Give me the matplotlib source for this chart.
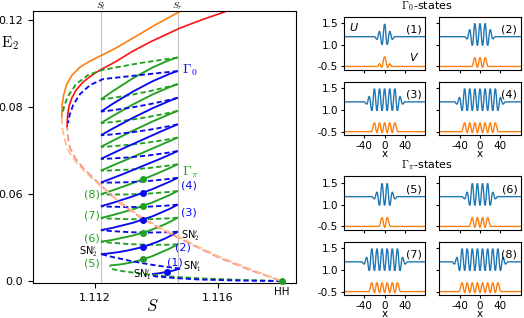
import matplotlib.pyplot as plt
from matplotlib.path import Path
from matplotlib.patches import PathPatch

plt.rcParams['mathtext.fontset'] = 'cm'
plt.rcParams['font.size'] = 7.5

# ---- main diagram, values (S, E2) ----
S_l, S_r = 1.11219, 1.11469
S_mid = 1.11356

# homogeneous branches
hss_orange_S = [1.110917, 1.110927, 1.110976, 1.111080, 1.111252, 1.111512, 1.111837,
                1.112163, 1.112650, 1.113236, 1.113951, 1.114787]
hss_orange_E = [0.07540, 0.08092, 0.08552, 0.09057, 0.09471, 0.09839, 0.10115,
                0.10345, 0.10690, 0.11172, 0.11770, 0.12414]
hss_red_S = [1.111089, 1.111106, 1.111154, 1.111242, 1.111382, 1.111610, 1.111902,
             1.112163, 1.112650, 1.113236, 1.113789, 1.114764, 1.115512, 1.116293]
hss_red_E = [0.07080, 0.07632, 0.08046, 0.08414, 0.08782, 0.09149, 0.09471,
             0.09701, 0.10069, 0.10575, 0.10989, 0.11632, 0.12032, 0.12414]
low_orange_S = [1.110917, 1.110927, 1.110992, 1.111122, 1.111350, 1.111675, 1.112163,
                1.112813, 1.113463, 1.114114, 1.114764, 1.115415, 1.116065, 1.117041, 1.118072]
low_orange_E = [0.07540, 0.07080, 0.06575, 0.06023, 0.05517, 0.05011, 0.04391,
                0.03632, 0.02989, 0.02460, 0.02000, 0.01540, 0.01103, 0.00552, 0.0]
low_red_S = [1.111089, 1.111115, 1.111187, 1.111350, 1.111642, 1.112163, 1.112813,
             1.113463, 1.114114, 1.114764, 1.115415, 1.116065, 1.117041, 1.118072]
low_red_E = [0.07080, 0.06621, 0.06115, 0.05655, 0.05149, 0.04437, 0.03586,
             0.02943, 0.02414, 0.01954, 0.01494, 0.01057, 0.00506, 0.0]

# snake of the Gamma_pi states (green): left fold, middle, right fold of each stable piece
g_left_S = [1.112488, S_l, S_l, S_l, S_l, S_l, S_l, S_l]
g_left = [0.00722, 0.01811, 0.02901, 0.03991, 0.05080, 0.06170, 0.07260, 0.08349]
g_mid = [0.00998, 0.02225, 0.03453, 0.04680, 0.05908, 0.07136, 0.08363, 0.09591]
g_right = [0.01687, 0.02915, 0.04143, 0.05370, 0.06598, 0.07825, 0.09053, 0.10280]
g_dash_mid = [0.01678, 0.02839, 0.03998, 0.05156, 0.06315, 0.07474, 0.08632]

# snake of the Gamma_0 states (blue)
b_left_S = [1.113854, S_l, S_l, S_l, S_l, S_l, S_l, S_l]
b_mid_S = [1.114332, S_mid, S_mid, S_mid, S_mid, S_mid, S_mid, S_mid]
b_right_S = [1.114764, S_r, S_r, S_r, S_r, S_r, S_r, S_r]
b_left = [0.00322, 0.01237, 0.02340, 0.03439, 0.04529, 0.05618, 0.06703, 0.07793]
b_mid = [0.00414, 0.01577, 0.02823, 0.04060, 0.05287, 0.06515, 0.07738, 0.08966]
b_right = [0.00575, 0.02267, 0.03513, 0.04749, 0.05977, 0.07205, 0.08428, 0.09655]
b_dash_mid = [0.00837, 0.02234, 0.03407, 0.04570, 0.05729, 0.06885, 0.08041]

# unstable ends of the snakes
g_tail_low_S = [1.118072, 1.116715, 1.115415, 1.114439, 1.113626, 1.112976, 1.112586,
                1.112500, 1.112488]
g_tail_low_E = [0.0, 0.00055, 0.00124, 0.00207, 0.00322, 0.00437, 0.00540, 0.00620, 0.00722]
b_tail_low_S = [1.118072, 1.116715, 1.115415, 1.114602, 1.114179, 1.113951, 1.113870, 1.113854]
b_tail_low_E = [0.0, 0.00023, 0.00069, 0.00138, 0.00190, 0.00215, 0.00260, 0.00322]
g_tail_top_S = [S_r, 1.113463, 1.112218, 1.111772, 1.111382, 1.111122, 1.110992, 1.110943]
g_tail_top_E = [0.10280, 0.10023, 0.09701, 0.09471, 0.09057, 0.08506, 0.08046, 0.07678]
b_tail_top_S = [S_r, 1.113463, 1.112260, 1.111837, 1.111512, 1.111285, 1.111171, 1.111122]
b_tail_top_E = [0.09655, 0.09471, 0.09287, 0.09011, 0.08598, 0.08092, 0.07632, 0.07264]

green = '#22a022'
blue = '#0a0aee'
dash = (0, (2.8, 1.6))

fig = plt.figure(figsize=(5.24, 3.18), dpi=100)
ax = fig.add_axes([0.063, 0.110, 0.502, 0.855])


def piece(p0, pm, p2, ls, color):
    # quadratic piece passing through the read middle point
    c = (2 * pm[0] - (p0[0] + p2[0]) / 2, 2 * pm[1] - (p0[1] + p2[1]) / 2)
    path = Path([p0, c, p2], [Path.MOVETO, Path.CURVE3, Path.CURVE3])
    ax.add_patch(PathPatch(path, fill=False, ec=color, lw=1.35, ls=ls,
                           capstyle='butt', zorder=3))


def snake(left_S, mid_S, right_S, left, mid, right, dmid, color):
    for k in range(len(left)):
        piece((left_S[k], left[k]), (mid_S[k], mid[k]), (right_S[k], right[k]), '-', color)
        if k + 1 < len(left):
            sm = (right_S[k] + left_S[k + 1]) / 2
            piece((right_S[k], right[k]), (sm, dmid[k]), (left_S[k + 1], left[k + 1]),
                  dash, color)


ax.axvline(S_l, color='#c4c4c4', lw=0.8, zorder=1)
ax.axvline(S_r, color='#c4c4c4', lw=0.8, zorder=1)

ax.plot(hss_orange_S, hss_orange_E, color='#ff7f0e', lw=1.2, zorder=2)
ax.plot(hss_red_S, hss_red_E, color='#ff1010', lw=1.2, zorder=2)

snake(g_left_S, [S_mid] * 8, [S_r] * 8, g_left, g_mid, g_right, g_dash_mid, green)
snake(b_left_S, b_mid_S, b_right_S, b_left, b_mid, b_right, b_dash_mid, blue)
for s, e, col in [(g_tail_low_S, g_tail_low_E, green), (b_tail_low_S, b_tail_low_E, blue),
                  (g_tail_top_S, g_tail_top_E, green), (b_tail_top_S, b_tail_top_E, blue)]:
    ax.plot(s, e, color=col, lw=1.35, ls=dash, zorder=3)

ax.plot(low_red_S, low_red_E, color='#f59090', lw=1.3, ls=(2, (4, 2)), zorder=3.5)
ax.plot(low_orange_S, low_orange_E, color='#ffc090', lw=1.3, ls=(0, (4, 2)), zorder=3.5)

ax.plot([S_mid] * 4, g_mid[:4], 'o', color=green, ms=4, zorder=4)
ax.plot(b_mid_S[:4], b_mid[:4], 'o', color=blue, ms=4, zorder=4)
ax.plot([1.118072], [0.0], 'o', color=green, ms=4, zorder=4, clip_on=False)

ax.set_xlim(1.10998, 1.11854)
ax.set_ylim(-0.0009, 0.1241)
ax.set_xticks([1.112, 1.116])
ax.set_xticklabels(['1.112', '1.116'])
ax.set_yticks([0.0, 0.04, 0.08, 0.12])
ax.set_yticklabels(['0.0', '0.06', '0.08', '0.12'])
ax.tick_params(labelsize=8)
ax.text(0.455, -0.085, '$S$', transform=ax.transAxes, fontsize=12, ha='center', va='center')
ax.text(-0.122, 0.882, r'$\mathrm{E}_2$', transform=ax.transAxes, fontsize=11, va='center')
for s, lab in [(S_l, '$S_l$'), (S_r, '$S_r$')]:
    ax.annotate(lab, (s, 1.0), xycoords=('data', 'axes fraction'), xytext=(0, -0.5),
                textcoords='offset points', ha='center', va='bottom', fontsize=7)

ax.text(1.11483, 0.0970, r'$\Gamma_0$', color=blue, fontsize=10, va='center')
ax.text(1.11483, 0.0503, r'$\Gamma_\pi$', color=green, fontsize=10, va='center')
blue_lab_S = [1.115057, 1.115057, 1.114862, 1.114602]
blue_lab_E = [0.04414, 0.03172, 0.01563, 0.00874]
for lab, s, e in zip(['(4)', '(3)', '(2)', '(1)'], blue_lab_S, blue_lab_E):
    ax.text(s, e, lab, color=blue, fontsize=8, ha='center', va='center')
green_lab_E = [0.04000, 0.03002, 0.01977, 0.00814]
for lab, e in zip(['(8)', '(7)', '(6)', '(5)'], green_lab_E):
    ax.text(1.111902, e, lab, color=green, fontsize=8, ha='center', va='center')
ax.text(1.111772, 0.01330, "SN$_2'$", fontsize=7, ha='center', va='center')
ax.text(1.113528, 0.00276, "SN$_1'$", fontsize=7, ha='center', va='center')
ax.text(1.114797, 0.02069, "SN$_2'$", fontsize=7, ha='left', va='center')
ax.text(1.114862, 0.00644, "SN$_1'$", fontsize=7, ha='left', va='center')
ax.text(1.118072, -0.0049, 'HH', fontsize=7.5, ha='center', va='center')

# ---- profile panels: extrema (x, value) of U and V ----
U_x = {
    1: [-80, -20, -15, -10, -5, 0, 5, 10, 15, 20, 80],
    2: [-80, -30, -25, -20, -15, -10, -5, 0, 5, 10, 15, 20, 25, 30, 80],
    3: [-80, -40, -35, -30, -25, -20, -15, -10, -5, 0, 5, 10, 15, 20, 25, 30, 35, 40, 80],
    4: [-80, -50, -45, -40, -35, -30, -25, -20, -15, -10, -5, 0, 5, 10, 15, 20, 25, 30,
        35, 40, 45, 50, 80],
    5: [-80, -25, -20, -15, -10, -5, 0, 5, 10, 15, 20, 25, 80],
    6: [-80, -35, -30, -25, -20, -15, -10, -5, 0, 5, 10, 15, 20, 25, 30, 35, 80],
    7: [-80, -45, -40, -35, -30, -25, -20, -15, -10, -5, 0, 5, 10, 15, 20, 25, 30, 35,
        40, 45, 80],
    8: [-80, -55, -50, -45, -40, -35, -30, -25, -20, -15, -10, -5, 0, 5, 10, 15, 20, 25,
        30, 35, 40, 45, 50, 55, 80],
}
U_y = {
    1: [1.18, 1.18, 1.12, 1.30, 1.00, 1.47, 1.00, 1.30, 1.12, 1.18, 1.18],
    2: [1.18, 1.18, 1.13, 1.34, 0.98, 1.48, 0.98, 1.48, 0.98, 1.48, 0.98, 1.34, 1.13,
        1.18, 1.18],
    3: [1.18, 1.18, 1.13, 1.30, 0.98, 1.48, 0.98, 1.48, 0.98, 1.48, 0.98, 1.48, 0.98,
        1.48, 0.98, 1.30, 1.13, 1.18, 1.18],
    4: [1.18, 1.18, 1.13, 1.28, 0.98, 1.48, 0.98, 1.48, 0.98, 1.48, 0.98, 1.48, 0.98,
        1.48, 0.98, 1.48, 0.98, 1.48, 0.98, 1.28, 1.13, 1.18, 1.18],
    5: [1.18, 1.18, 1.13, 1.28, 0.98, 1.48, 0.98, 1.48, 0.98, 1.28, 1.13, 1.18, 1.18],
    6: [1.18, 1.18, 1.13, 1.28, 0.98, 1.48, 0.98, 1.48, 0.98, 1.48, 0.98, 1.48, 0.98,
        1.28, 1.13, 1.18, 1.18],
    7: [1.18, 1.18, 1.13, 1.28, 0.98, 1.48, 0.98, 1.48, 0.98, 1.48, 0.98, 1.48, 0.98,
        1.48, 0.98, 1.48, 0.98, 1.28, 1.13, 1.18, 1.18],
    8: [1.18, 1.18, 1.13, 1.28, 0.98, 1.48, 0.98, 1.48, 0.98, 1.48, 0.98, 1.48, 0.98,
        1.48, 0.98, 1.48, 0.98, 1.48, 0.98, 1.48, 0.98, 1.28, 1.13, 1.18, 1.18],
}
V_x = {
    1: [-80, -14, -10, -6, 0, 6, 10, 14, 80],
    2: [-80, -16, -10, -5, 0, 5, 10, 16, 80],
    3: [-80, -26, -20, -15, -10, -5, 0, 5, 10, 15, 20, 26, 80],
    4: [-80, -36, -30, -25, -20, -15, -10, -5, 0, 5, 10, 15, 20, 25, 30, 36, 80],
    5: [-80, -11, -5, 0, 5, 11, 80],
    6: [-80, -21, -15, -10, -5, 0, 5, 10, 15, 21, 80],
    7: [-80, -31, -25, -20, -15, -10, -5, 0, 5, 10, 15, 20, 25, 31, 80],
    8: [-80, -41, -35, -30, -25, -20, -15, -10, -5, 0, 5, 10, 15, 20, 25, 30, 35, 41, 80],
}
V_y = {
    1: [-0.5, -0.5, -0.44, -0.52, -0.28, -0.52, -0.44, -0.5, -0.5],
    2: [-0.5, -0.5, -0.30, -0.52, -0.30, -0.52, -0.30, -0.5, -0.5],
    3: [-0.5, -0.5, -0.30, -0.52, -0.30, -0.52, -0.30, -0.52, -0.30, -0.52, -0.30, -0.5, -0.5],
    4: [-0.5, -0.5, -0.30, -0.52, -0.30, -0.52, -0.30, -0.52, -0.30, -0.52, -0.30, -0.52,
        -0.30, -0.52, -0.30, -0.5, -0.5],
    5: [-0.5, -0.5, -0.30, -0.52, -0.30, -0.5, -0.5],
    6: [-0.5, -0.5, -0.30, -0.52, -0.30, -0.52, -0.30, -0.52, -0.30, -0.5, -0.5],
    7: [-0.5, -0.5, -0.30, -0.52, -0.30, -0.52, -0.30, -0.52, -0.30, -0.52, -0.30, -0.52,
        -0.30, -0.5, -0.5],
    8: [-0.5, -0.5, -0.30, -0.52, -0.30, -0.52, -0.30, -0.52, -0.30, -0.52, -0.30, -0.52,
        -0.30, -0.52, -0.30, -0.52, -0.30, -0.5, -0.5],
}
V_shift = 1.0  # V is drawn one unit up, where the tick reads -0.5


def wave(a, xs, ys, color):
    verts = [(xs[0], ys[0])]
    codes = [Path.MOVETO]
    for i in range(1, len(xs)):
        d = (xs[i] - xs[i - 1]) * 0.4
        verts += [(xs[i - 1] + d, ys[i - 1]), (xs[i] - d, ys[i]), (xs[i], ys[i])]
        codes += [Path.CURVE4] * 3
    a.add_patch(PathPatch(Path(verts, codes), fill=False, ec=color, lw=1.0))


fig.text(0.814, 0.980, r'$\Gamma_0$-states', ha='center', va='center', fontsize=8)
fig.text(0.814, 0.481, r'$\Gamma_\pi$-states', ha='center', va='center', fontsize=8)
rows = [0.780, 0.575, 0.277, 0.072]
cols = [0.656, 0.838]
for n in range(1, 9):
    r = (n - 1) // 2
    c = (n - 1) % 2
    a = fig.add_axes([cols[c], rows[r], 0.156, 0.168])
    wave(a, U_x[n], U_y[n], '#1f77b4')
    wave(a, V_x[n], [v + V_shift for v in V_y[n]], '#ff7f0e')
    a.set_xlim(-80, 80)
    a.set_ylim(0.42, 1.64)
    a.set_yticks([1.5, 1.0, 0.5])
    a.set_xticks([-40, 0, 40])
    if c == 0:
        a.set_yticklabels(['1.5', '1.0', '-0.5'])
    else:
        a.set_yticklabels([])
    if r in (1, 3):
        a.set_xticklabels(['-40', '0', '40'])
        a.set_xlabel('x', labelpad=-1, fontsize=7.5)
    else:
        a.set_xticklabels([])
    a.tick_params(labelsize=7.5, length=2.5, pad=1.5)
    a.text(0.86, 0.76, '(%d)' % n, transform=a.transAxes, ha='center', va='center', fontsize=8)
    if n == 1:
        a.text(0.07, 0.73, 'U', transform=a.transAxes, style='italic', fontsize=8)
        a.text(0.80, 0.16, 'V', transform=a.transAxes, style='italic', fontsize=8)

fig.savefig('out.png', dpi=100)
